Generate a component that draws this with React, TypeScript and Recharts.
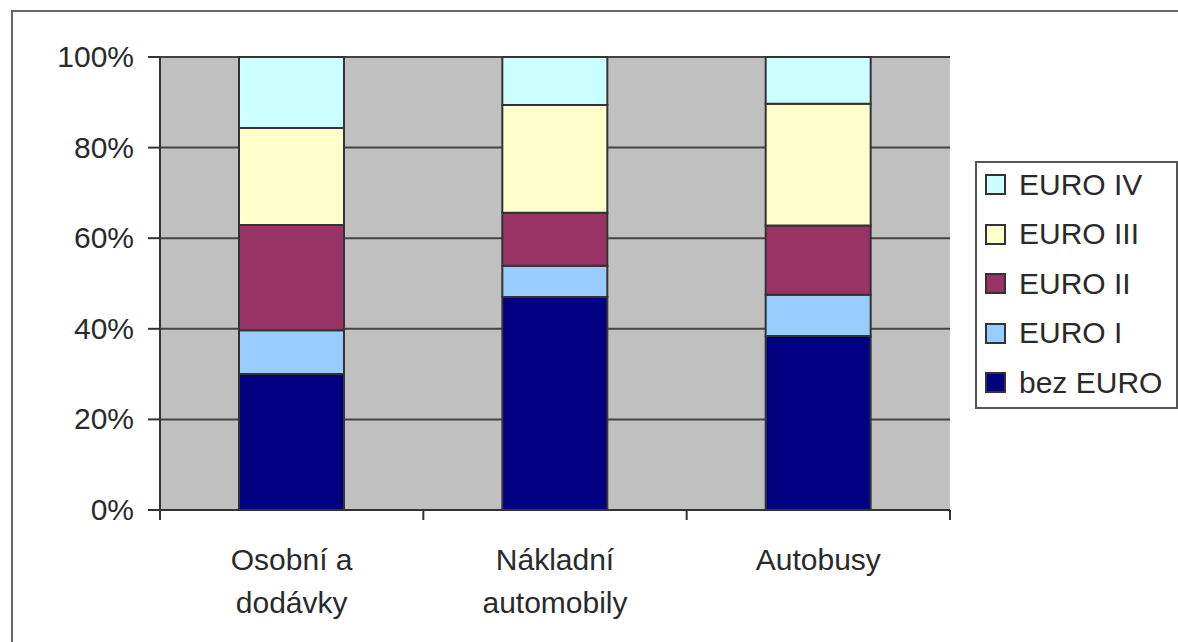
import { BarChart, Bar, XAxis, YAxis, CartesianGrid, Legend } from 'recharts';

// Vehicle categories on the x axis
const categories = ['Osobní a\ndodávky', 'Nákladní\nautomobily', 'Autobusy'];

// Share of each emission class per category (%), stacked bottom to top
const bezEuro = [30, 47, 38.4];
const euro1 = [9.7, 6.9, 9.1];
const euro2 = [23.2, 11.7, 15.3];
const euro3 = [21.4, 23.8, 26.9];
const euro4 = [15.7, 10.6, 10.3];

const yTicks = [0, 20, 40, 60, 80, 100];

const SERIES = [
  { key: 'bezEuro', name: 'bez EURO', color: '#000080' },
  { key: 'euro1', name: 'EURO I', color: '#99CCFF' },
  { key: 'euro2', name: 'EURO II', color: '#993366' },
  { key: 'euro3', name: 'EURO III', color: '#FFFFCC' },
  { key: 'euro4', name: 'EURO IV', color: '#CCFFFF' },
];

const data = categories.map((c, i) => ({
  category: c,
  bezEuro: bezEuro[i],
  euro1: euro1[i],
  euro2: euro2[i],
  euro3: euro3[i],
  euro4: euro4[i],
}));

const FONT = '"Liberation Sans", Arial, sans-serif';
const TEXT = '#2a2a2a';
const AXIS = '#333';

// Category label plus the tick marks on the band edges (Excel style)
const CategoryTick = ({ x, y, payload, index, width, visibleTicksCount }: any) => {
  const lines = String(payload.value).split('\n');
  const band = width / visibleTicksCount;
  const left = x - band / 2;
  const right = x + band / 2;
  return (
    <g>
      <line x1={left} y1={y} x2={left} y2={y + 10} stroke={AXIS} strokeWidth={2} />
      {index === visibleTicksCount - 1 && (
        <line x1={right} y1={y} x2={right} y2={y + 10} stroke={AXIS} strokeWidth={2} />
      )}
      <text x={x} y={y} textAnchor="middle" fontFamily={FONT} fontSize={30} fill={TEXT}>
        {lines.map((l, i) => (
          <tspan key={i} x={x} dy={i === 0 ? 60 : 43}>
            {l}
          </tspan>
        ))}
      </text>
    </g>
  );
};

const PercentTick = ({ x, y, payload }: any) => (
  <text x={x} y={y} dy={10} textAnchor="end" fontFamily={FONT} fontSize={30} fill={TEXT}>
    {`${payload.value}%`}
  </text>
);

// Boxed legend, top series first
const LegendBox = () => (
  <div
    style={{
      width: 203,
      height: 248,
      border: '2px solid #555',
      background: '#fff',
      boxSizing: 'border-box',
      padding: '0 0 0 8px',
      fontFamily: FONT,
      fontSize: 30,
      color: TEXT,
      overflow: 'hidden',
    }}
  >
    <div style={{ marginTop: -3 }}>
      {[...SERIES].reverse().map((s) => (
        <div key={s.key} style={{ display: 'flex', alignItems: 'center', height: 49.5 }}>
          <span
            style={{
              display: 'inline-block',
              width: 17,
              height: 17,
              background: s.color,
              border: '2px solid #333',
              marginRight: 13,
              flexShrink: 0,
            }}
          />
          <span style={{ whiteSpace: 'nowrap' }}>{s.name}</span>
        </div>
      ))}
    </div>
  </div>
);

export default function App() {
  return (
    <div style={{ position: 'fixed', left: 0, top: 0, width: 1178, height: 642, background: '#fff', overflow: 'hidden' }}>
      <div
        style={{
          position: 'absolute',
          left: 11,
          top: 10,
          width: 1300,
          height: 800,
          border: '2px solid #666',
        }}
      />
      <BarChart
        width={1178}
        height={642}
        data={data}
        margin={{ top: 57, right: 25, bottom: 32, left: 0 }}
        barCategoryGap="30%"
        style={{ position: 'absolute', left: 0, top: 0 }}
      >
        <CartesianGrid vertical={false} fill="#C0C0C0" stroke="#444" strokeWidth={2} fillOpacity={1} />
        <XAxis
          dataKey="category"
          height={100}
          axisLine={{ stroke: AXIS, strokeWidth: 2 }}
          tickLine={false}
          tickSize={0}
          tickMargin={0}
          interval={0}
          tick={<CategoryTick />}
        />
        <YAxis
          width={160}
          domain={[0, 100]}
          ticks={yTicks}
          axisLine={{ stroke: AXIS, strokeWidth: 2 }}
          tickLine={{ stroke: AXIS, strokeWidth: 2 }}
          tickSize={12}
          tick={<PercentTick />}
          tickMargin={14}
        />
        <Legend
          layout="vertical"
          align="right"
          verticalAlign="top"
          content={<LegendBox />}
          wrapperStyle={{ position: 'absolute', left: 975, top: 161, width: 203 }}
        />
        {SERIES.map((s) => (
          <Bar
            key={s.key}
            dataKey={s.key}
            name={s.name}
            stackId="a"
            fill={s.color}
            stroke="#333"
            strokeWidth={2}
            isAnimationActive={false}
          />
        ))}
      </BarChart>
    </div>
  );
}
